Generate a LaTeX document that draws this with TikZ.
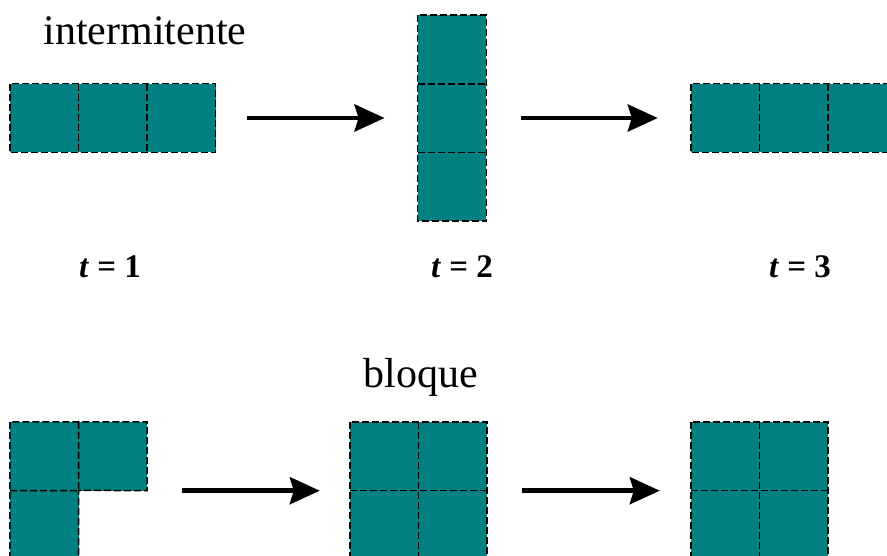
\documentclass[tikz,border=0pt]{standalone}
\usepackage{fontspec}
\setmainfont{Liberation Serif}
\usetikzlibrary{arrows.meta}
\definecolor{cellteal}{RGB}{0,128,128}
\tikzset{
    cell/.style={fill=cellteal, minimum size=68.5pt, inner sep=0pt},
    grid/.style={draw=black, line width=1.5pt, dash pattern=on 7pt off 3pt},
    title/.style={font=\fontsize{42}{46}\selectfont, anchor=base},
    tlabel/.style={font=\fontsize{33}{36}\selectfont\bfseries, anchor=base},
    arr/.style={line width=4.5pt, -{Stealth[length=30pt, width=27pt, inset=4pt]}}
}

\begin{document}
\begin{tikzpicture}[x=1pt, y=-1pt]
    \clip (0,0) rectangle (887,556);
    \fill[white] (0,0) rectangle (887,556);
    % intermitente
    \node[title] (inter) at (145,45) {intermitente};
    \foreach \i/\x in {1/44.25, 2/112.75, 3/181.25}
        \node[cell] (a\i) at (\x,118) {};
    \foreach \i/\y in {1/49.5, 2/118, 3/186.5}
        \node[cell] (b\i) at (452,\y) {};
    \foreach \i/\x in {1/725.25, 2/793.75, 3/862.25}
        \node[cell] (c\i) at (\x,118) {};
    \draw[grid] (a1.north west) rectangle (a3.south east)
        (a1.north east) -- (a1.south east) (a2.north east) -- (a2.south east);
    \draw[grid] (b1.north west) rectangle (b3.south east)
        (b1.south west) -- (b1.south east) (b2.south west) -- (b2.south east);
    \draw[grid] (c1.north west) rectangle (c3.south east)
        (c1.north east) -- (c1.south east) (c2.north east) -- (c2.south east);
    \draw[arr] ([xshift=31pt]a3.east) -- ([xshift=-33pt]b2.west);
    \draw[arr] ([xshift=35pt]b2.east) -- ([xshift=-33pt]c1.west);
    \node[tlabel] (t1) at (110,278) {\textit{t} = 1};
    \node[tlabel] (t2) at (462,278) {\textit{t} = 2};
    \node[tlabel] (t3) at (800,278) {\textit{t} = 3};
    % bloque
    \node[title] (bloque) at (421,387) {bloque};
    \node[cell] (d1) at (44.25,456.25) {};
    \node[cell] (d2) at (112.75,456.25) {};
    \node[cell] (d3) at (44.25,524.75) {};
    \foreach \i/\x/\y in {1/384.25/456.25, 2/452.75/456.25, 3/384.25/524.75, 4/452.75/524.75}
        \node[cell] (e\i) at (\x,\y) {};
    \foreach \i/\x/\y in {1/725.25/456.25, 2/793.75/456.25, 3/725.25/524.75, 4/793.75/524.75}
        \node[cell] (f\i) at (\x,\y) {};
    \draw[grid] (d3.south west) -- (d1.north west) -- (d2.north east) -- (d2.south east)
        -- (d3.north east) -- (d3.south east) -- cycle
        (d1.south west) -- (d1.south east) (d1.north east) -- (d1.south east);
    \draw[grid] (e1.north west) rectangle (e4.south east)
        (e1.north east) -- (e3.south east) (e1.south west) -- (e2.south east);
    \draw[grid] (f1.north west) rectangle (f4.south east)
        (f1.north east) -- (f3.south east) (f1.south west) -- (f2.south east);
    \draw[arr] ([xshift=35pt]d2.south east) -- ([xshift=-30pt]e1.south west);
    \draw[arr] ([xshift=35pt]e2.south east) -- ([xshift=-31pt]f1.south west);
\end{tikzpicture}
\end{document}
